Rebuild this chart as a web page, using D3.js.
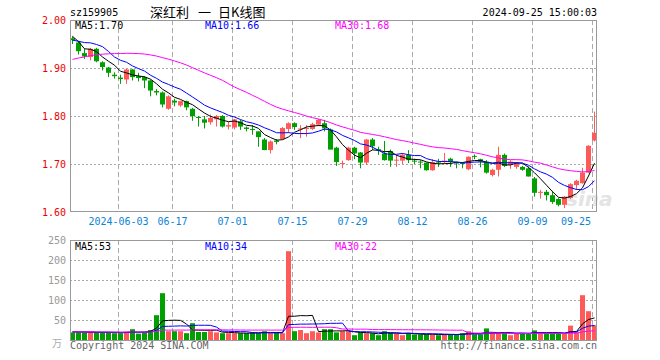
<!DOCTYPE html>
<html><head><meta charset="utf-8">
<script src="https://cdn.jsdelivr.net/npm/d3@7"></script>
<style>body{margin:0;background:#fff}svg{display:block}</style>
</head><body><svg id="c" width="660" height="360"></svg>
<script>
const dates=["05-22","05-23","05-24","05-27","05-28","05-29","05-30","05-31",
"06-03","06-04","06-05","06-06","06-07","06-11","06-12","06-13","06-14","06-17","06-18","06-19","06-20","06-21","06-24","06-25","06-26","06-27","06-28",
"07-01","07-02","07-03","07-04","07-05","07-08","07-09","07-10","07-11","07-12","07-15","07-16","07-17","07-18","07-19","07-22","07-23","07-24","07-25","07-26","07-29","07-30","07-31",
"08-01","08-02","08-05","08-06","08-07","08-08","08-09","08-12","08-13","08-14","08-15","08-16","08-19","08-20","08-21","08-22","08-23","08-26","08-27","08-28","08-29","08-30",
"09-02","09-03","09-04","09-05","09-06","09-09","09-10","09-11","09-12","09-13","09-18","09-19","09-20","09-23","09-24","09-25"];
const opens=[1.962,1.953,1.931,1.923,1.940,1.912,1.901,1.886,1.880,1.876,1.897,1.883,1.881,1.874,1.852,1.849,1.815,1.832,1.822,1.831,1.815,1.798,1.793,1.787,1.793,1.800,1.778,1.776,1.789,1.776,1.773,1.768,1.751,1.729,1.749,1.752,1.773,1.785,1.772,1.773,1.773,1.782,1.785,1.772,1.734,1.700,1.708,1.734,1.724,1.703,1.751,1.731,1.722,1.727,1.707,1.707,1.719,1.707,1.705,1.703,1.687,1.705,1.704,1.711,1.703,1.702,1.689,1.717,1.710,1.705,1.677,1.688,1.719,1.698,1.694,1.694,1.691,1.670,1.640,1.642,1.635,1.627,1.615,1.629,1.656,1.660,1.682,1.749];
const highs=[1.966,1.956,1.940,1.942,1.942,1.914,1.902,1.891,1.886,1.898,1.898,1.890,1.883,1.876,1.856,1.851,1.843,1.836,1.832,1.832,1.817,1.800,1.800,1.803,1.802,1.802,1.788,1.794,1.792,1.778,1.781,1.768,1.754,1.749,1.752,1.777,1.787,1.787,1.781,1.781,1.786,1.794,1.792,1.774,1.736,1.707,1.736,1.736,1.725,1.752,1.754,1.736,1.748,1.730,1.719,1.723,1.729,1.711,1.708,1.703,1.710,1.711,1.723,1.713,1.704,1.704,1.716,1.720,1.711,1.708,1.690,1.736,1.722,1.708,1.704,1.696,1.695,1.673,1.646,1.646,1.644,1.629,1.633,1.660,1.667,1.692,1.739,1.809];
const lows=[1.950,1.928,1.919,1.916,1.912,1.895,1.881,1.878,1.867,1.867,1.874,1.872,1.858,1.841,1.843,1.818,1.813,1.820,1.819,1.812,1.790,1.778,1.774,1.782,1.778,1.776,1.772,1.772,1.771,1.768,1.761,1.736,1.729,1.722,1.741,1.751,1.765,1.771,1.754,1.757,1.771,1.779,1.768,1.731,1.696,1.691,1.707,1.710,1.691,1.698,1.729,1.719,1.707,1.694,1.694,1.700,1.702,1.700,1.691,1.686,1.686,1.694,1.701,1.694,1.691,1.691,1.687,1.710,1.693,1.680,1.674,1.674,1.694,1.690,1.690,1.686,1.674,1.632,1.628,1.624,1.617,1.612,1.608,1.627,1.646,1.659,1.681,1.747];
const closes=[1.958,1.935,1.924,1.940,1.914,1.902,1.890,1.883,1.877,1.897,1.881,1.879,1.874,1.853,1.849,1.824,1.841,1.828,1.831,1.818,1.800,1.796,1.786,1.796,1.800,1.778,1.781,1.793,1.778,1.773,1.771,1.756,1.729,1.747,1.746,1.775,1.785,1.777,1.774,1.775,1.783,1.792,1.774,1.730,1.704,1.702,1.734,1.722,1.703,1.751,1.737,1.729,1.708,1.707,1.709,1.719,1.708,1.705,1.703,1.687,1.704,1.703,1.707,1.704,1.701,1.700,1.715,1.716,1.705,1.682,1.688,1.719,1.696,1.705,1.702,1.688,1.674,1.640,1.642,1.635,1.621,1.615,1.632,1.658,1.665,1.682,1.738,1.765];
const volumes=[19,19,19,19,19,19,19,17,17,21,27,16,19,25,62,117,22,22,22,17,42,20,20,22,19,17,17,17,17,17,19,17,22,17,19,17,222,22,25,17,22,19,27,27,19,22,22,12,19,17,17,12,22,19,17,12,17,14,14,14,14,12,14,14,14,17,22,14,14,29,17,17,17,12,17,17,17,24,17,17,17,17,17,36,19,112,72,37];
const priorCloses=[1.850,1.855,1.858,1.862,1.865,1.868,1.869,1.875,1.880,1.886,1.893,1.900,1.910,1.918,1.925,1.935,1.940,1.948,1.955,1.967,1.958,1.952,1.945,1.948,1.947,1.990,1.999,1.945,1.938];
const priorVolumes=[22,20,19,21,23,20,18,19,21,20,22,24,19,18,20,21,19,20,22,21,19,18,20,23,21,19,20,22,21];
const priceTicks=[1.6,1.7,1.8,1.9,2.0];
const volTicks=[50,100,150,200,250];
const tickDates=["06-03","06-17","07-01","07-15","07-29","08-12","08-26","09-09","09-25"];
const tickLabels=["2024-06-03","06-17","07-01","07-15","07-29","08-12","08-26","09-09","09-25"];
const titleParts=["深红利","一","日K线图"];
const priceMaLabels=["MA5:1.70","MA10:1.66","MA30:1.68"];
const volMaLabels=["MA5:53","MA10:34","MA30:22"];
const maPeriods=[5,10,30];
const maColors=["#000000","#0000ff","#ff00ff"];

const RED="#ff5a5a",GREEN="#00a000",FRAME="#999",GRID="#aaa";
const FONT="'DejaVu Sans Mono', monospace";
const svg=d3.select("#c");
const L=70,R=597,pT=20,pB=212,vT=240,vB=340;
const x=d3.scaleBand().domain(dates).range([70,598]).padding(0);
const cx=d=>x(d)+2.5;
const y=d3.scaleLinear().domain([1.6,2.0]).range([pB,pT]);
const yv=d3.scaleLinear().domain([0,250]).range([vB,vT]);

function ma(arr,prior,n){
  const all=prior.concat(arr),off=prior.length;
  return arr.map((_,i)=>{const s=all.slice(off+i-n+1,off+i+1);return d3.mean(s);});
}
const rows=dates.map((d,i)=>({d,o:opens[i],h:highs[i],l:lows[i],c:closes[i],v:volumes[i]}));

// grids
svg.selectAll("line.h").data(priceTicks.filter(t=>t>1.6&&t<2.0)).join("line")
  .attr("x1",L).attr("x2",R).attr("y1",t=>Math.round(y(t))+0.5).attr("y2",t=>Math.round(y(t))+0.5)
  .attr("stroke",GRID).attr("stroke-dasharray","2,2");
svg.selectAll("line.hv").data(volTicks.filter(t=>t<250)).join("line")
  .attr("x1",L).attr("x2",R).attr("y1",t=>Math.round(yv(t))+0.5).attr("y2",t=>Math.round(yv(t))+0.5)
  .attr("stroke",GRID).attr("stroke-dasharray","2,2");
tickDates.forEach(d=>{
  const xx=x(d)+0.5;
  svg.append("line").attr("x1",xx).attr("x2",xx).attr("y1",pT).attr("y2",pB).attr("stroke",GRID).attr("stroke-dasharray","5,3");
  svg.append("line").attr("x1",xx).attr("x2",xx).attr("y1",vT).attr("y2",vB).attr("stroke",GRID).attr("stroke-dasharray","5,3");
});

// watermark
svg.append("text").attr("x",566).attr("y",206).attr("font-family","'DejaVu Sans', sans-serif")
  .attr("font-style","italic").attr("font-weight","bold").attr("font-size",20).attr("fill","#e4e4e4").text("sina");

// candles
const gC=svg.append("g");
gC.selectAll("line.w").data(rows).join("line")
  .attr("x1",r=>cx(r.d)).attr("x2",r=>cx(r.d)).attr("y1",r=>y(r.h)).attr("y2",r=>y(r.l))
  .attr("stroke",r=>r.c>=r.o?RED:GREEN).attr("stroke-width",1);
gC.selectAll("rect").data(rows).join("rect")
  .attr("x",r=>x(r.d)).attr("width",5)
  .attr("y",r=>y(Math.max(r.o,r.c)))
  .attr("height",r=>Math.max(1,Math.abs(y(r.o)-y(r.c))))
  .attr("fill",r=>r.c>=r.o?RED:GREEN);

// price MA
maPeriods.forEach((n,k)=>{
  const m=ma(closes,priorCloses,n);
  svg.append("path").datum(m).attr("fill","none").attr("stroke",maColors[k]).attr("stroke-width",1)
    .attr("d",d3.line().x((v,i)=>cx(dates[i])).y(v=>y(v)));
});

// volume bars
svg.append("g").selectAll("rect").data(rows).join("rect")
  .attr("x",r=>x(r.d)).attr("width",5).attr("y",r=>yv(r.v)).attr("height",r=>vB+1-yv(r.v))
  .attr("fill",r=>r.c>=r.o?RED:GREEN);
maPeriods.forEach((n,k)=>{
  const m=ma(volumes,priorVolumes,n);
  svg.append("path").datum(m).attr("fill","none").attr("stroke",maColors[k]).attr("stroke-width",1)
    .attr("d",d3.line().x((v,i)=>cx(dates[i])).y(v=>yv(v)));
});

// frames
svg.append("rect").attr("x",L+0.5).attr("y",pT+0.5).attr("width",R-L-1).attr("height",pB-pT-1)
  .attr("fill","none").attr("stroke",FRAME);
svg.append("rect").attr("x",L+0.5).attr("y",vT+0.5).attr("width",R-L-1).attr("height",vB-vT)
  .attr("fill","none").attr("stroke",FRAME);

// axis labels
svg.selectAll("text.py").data(priceTicks).join("text")
  .attr("x",66).attr("y",t=>y(t)+4).attr("text-anchor","end").attr("font-family",FONT).attr("font-size",10)
  .attr("fill","#ee0000").text(t=>t.toFixed(2));
svg.selectAll("text.vy").data(volTicks).join("text")
  .attr("x",66).attr("y",t=>yv(t)+4).attr("text-anchor","end").attr("font-family",FONT).attr("font-size",10)
  .attr("fill","#999").text(t=>t);
svg.append("text").attr("x",52).attr("y",347).attr("font-family","'Noto Sans CJK SC', sans-serif").attr("font-size",10)
  .attr("fill","#aaa").text("万");
tickDates.forEach((d,i)=>{
  const t=svg.append("text").attr("y",225).attr("font-family",FONT).attr("font-size",10).attr("fill","#0a84d6")
    .attr("text-anchor","middle").attr("x",x(d)+0.5).text(tickLabels[i]);
  const w=tickLabels[i].length*6.02;
  if(x(d)+0.5+w/2>591){t.attr("text-anchor","end").attr("x",591);}
});

// headers
svg.append("text").attr("x",70).attr("y",16).attr("font-family",FONT).attr("font-size",10).attr("fill","#000").text("sz159905");
const titleX=[150,198,218];
titleParts.forEach((s,k)=>svg.append("text").attr("x",titleX[k]).attr("y",17)
  .attr("font-family","'Noto Sans CJK SC', sans-serif").attr("font-size",13).attr("fill","#000").text(s));
svg.append("text").attr("x",597).attr("y",16).attr("text-anchor","end").attr("font-family",FONT).attr("font-size",10).attr("fill","#000").text("2024-09-25 15:00:03");
const hx=[75,205,335];
priceMaLabels.forEach((s,k)=>svg.append("text").attr("x",hx[k]).attr("y",29).attr("font-family",FONT).attr("font-size",10).attr("fill",maColors[k]).text(s));
volMaLabels.forEach((s,k)=>svg.append("text").attr("x",hx[k]).attr("y",250).attr("font-family",FONT).attr("font-size",10).attr("fill",maColors[k]).text(s));
svg.append("text").attr("x",70).attr("y",349).attr("font-family",FONT).attr("font-size",10).attr("fill","#666").text("Copyright 2024 SINA.COM");
svg.append("text").attr("x",597).attr("y",349).attr("text-anchor","end").attr("font-family",FONT).attr("font-size",10).attr("fill","#666").text("http://finance.sina.com.cn");
</script></body></html>
